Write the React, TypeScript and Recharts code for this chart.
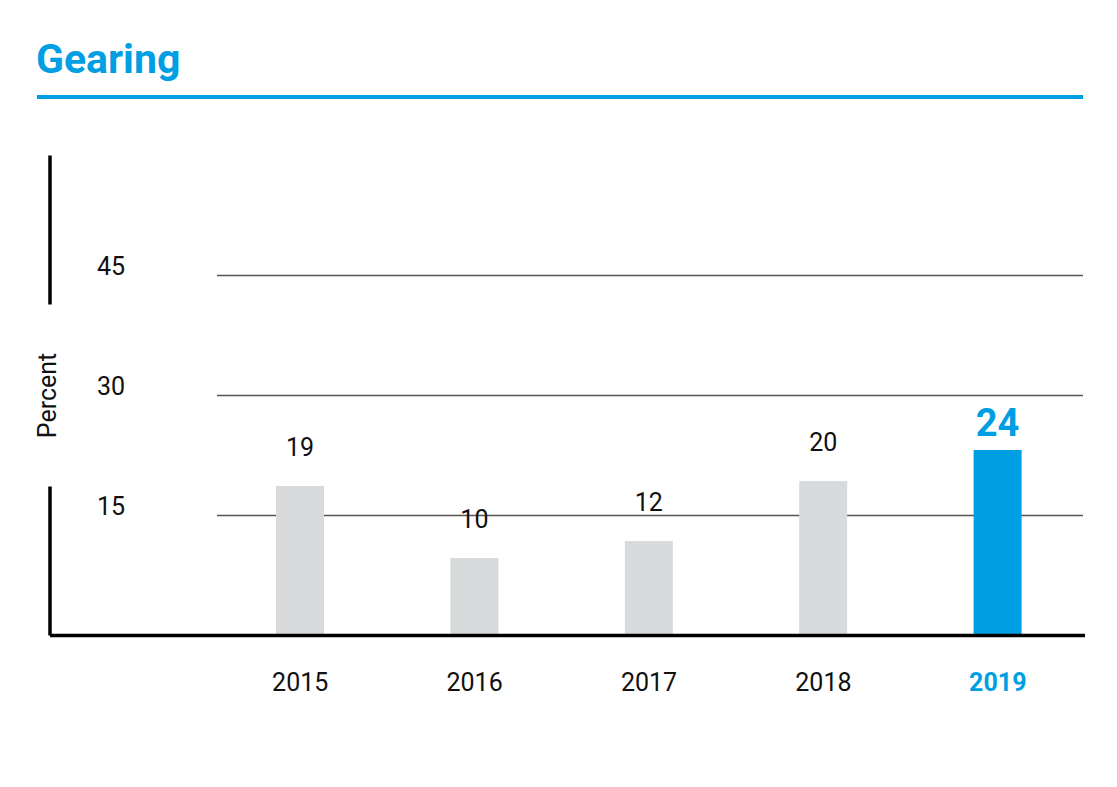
import React from "react";
import {
  BarChart,
  Bar,
  XAxis,
  YAxis,
  CartesianGrid,
  Cell,
  LabelList,
} from "recharts";

const years = ["2015", "2016", "2017", "2018", "2019"];
const gearing = [18.7, 9.7, 11.8, 19.3, 23.2];
const shownLabels = [19, 10, 12, 20, 24];
const yTicks = [15, 30, 45];
const HIGHLIGHT_YEAR = "2019";

const BLUE = "#009fe3";
const GREY = "#d9dadb";
const FONT = "Roboto, 'Liberation Sans', Arial, sans-serif";

const data = years.map((year, i) => ({
  year,
  value: gearing[i],
  label: shownLabels[i],
}));

const XTick = (props: any) => {
  const { x, y, payload } = props;
  const hot = payload.value === HIGHLIGHT_YEAR;
  return (
    <text
      x={x}
      y={y + 55}
      textAnchor="middle"
      fontFamily={FONT}
      fontSize={25}
      fontWeight={hot ? 700 : 400}
      fill={hot ? BLUE : "#111"}
    >
      {payload.value}
    </text>
  );
};

const YTick = (props: any) => {
  const { x, y, payload } = props;
  return (
    <text
      x={x}
      y={y - 9}
      textAnchor="start"
      dominantBaseline="central"
      fontFamily={FONT}
      fontSize={25}
      fill="#111"
    >
      {payload.value}
    </text>
  );
};

// white gap in the axis line with the rotated unit label
const PercentLabel = (props: any) => {
  const { viewBox } = props;
  const cx = viewBox.x;
  const cy = viewBox.y + viewBox.height / 2;
  return (
    <g>
      <rect x={cx - 8} y={cy - 91} width={16} height={182} fill="#fff" />
      <text
        x={cx - 3}
        y={cy}
        transform={`rotate(-90 ${cx - 3} ${cy})`}
        textAnchor="middle"
        dominantBaseline="central"
        fontFamily={FONT}
        fontSize={25}
        fill="#111"
      >
        Percent
      </text>
    </g>
  );
};

const BarValue = (props: any) => {
  const { x, y, width, value, index } = props;
  const hot = years[index] === HIGHLIGHT_YEAR;
  return (
    <text
      x={x + width / 2}
      y={y - (hot ? 14 : 30)}
      textAnchor="middle"
      fontFamily={FONT}
      fontSize={hot ? 38 : 25}
      fontWeight={hot ? 700 : 400}
      fill={hot ? BLUE : "#111"}
    >
      {value}
    </text>
  );
};

export default function App() {
  return (
    <div
      style={{
        position: "absolute",
        left: 0,
        top: 0,
        width: 1117,
        height: 787,
        background: "#fff",
      }}
    >
      <svg
        width={1117}
        height={120}
        style={{ position: "absolute", left: 0, top: 0 }}
      >
        <text
          x={36}
          y={72.5}
          fontFamily={FONT}
          fontSize={41}
          fontWeight={700}
          fill={BLUE}
        >
          Gearing
        </text>
        <rect x={37} y={95} width={1046} height={4} fill={BLUE} />
      </svg>
      <div style={{ position: "absolute", left: 0, top: 0 }}>
        <BarChart
          width={1117}
          height={787}
          data={data}
          margin={{ top: 155.5, right: 32, bottom: 150.5, left: 50 }}
        >
          <CartesianGrid
            x={217}
            width={866}
            vertical={false}
            syncWithTicks
            stroke="#555"
            strokeWidth={1.3}
          />
          <XAxis
            dataKey="year"
            height={1}
            padding={{ left: 163, right: 0 }}
            axisLine={{ stroke: "#000", strokeWidth: 3.5 }}
            tickLine={false}
            tickSize={0}
            tickMargin={0}
            tick={<XTick />}
            interval={0}
          />
          <YAxis
            mirror
            domain={[0, 60]}
            ticks={yTicks}
            axisLine={{ stroke: "#000", strokeWidth: 3.5 }}
            tickLine={false}
            tickSize={0}
            tickMargin={47}
            tick={<YTick />}
            label={{ content: (p: any) => <PercentLabel {...p} /> }}
          />
          <Bar dataKey="value" barSize={48} isAnimationActive={false}>
            {data.map((d) => (
              <Cell
                key={d.year}
                fill={d.year === HIGHLIGHT_YEAR ? BLUE : GREY}
              />
            ))}
            <LabelList dataKey="label" content={<BarValue />} />
          </Bar>
        </BarChart>
      </div>
    </div>
  );
}
